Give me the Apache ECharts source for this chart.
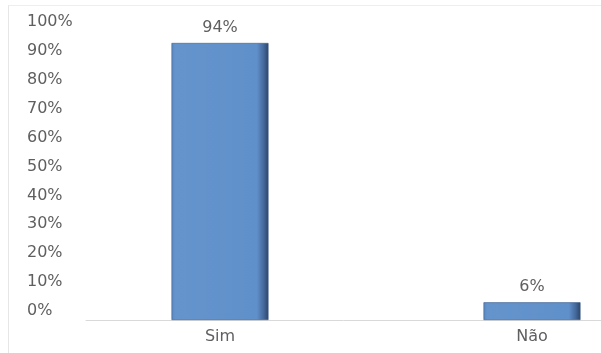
<!DOCTYPE html>
<html><head><meta charset="utf-8">
<script src="https://cdn.jsdelivr.net/npm/echarts@6/dist/echarts.min.js"></script>
<style>
html,body{margin:0;padding:0;background:#fff;}
#frame{position:absolute;left:8px;top:5px;width:593px;height:348px;border-left:1px solid #e6e6e6;border-top:1px solid #eeeeee;box-sizing:border-box;}
#c{position:absolute;left:0;top:0;width:601px;height:353px;}
</style></head>
<body>
<div id="frame"></div>
<div id="c"></div>
<script>
const categories = ['Sim', 'Não'];
const values = [94, 6];
const yTicks = [0, 10, 20, 30, 40, 50, 60, 70, 80, 90, 100];

const chart = echarts.init(document.getElementById('c'), null, {renderer: 'canvas'});
const font = 'DejaVu Sans';
const txt = '#5f5f5f';
const barGrad = new echarts.graphic.LinearGradient(0, 0, 1, 0, [
  {offset: 0, color: '#5a87bf'},
  {offset: 0.04, color: '#6594cd'},
  {offset: 0.88, color: '#6090c9'},
  {offset: 0.95, color: '#44699b'},
  {offset: 1, color: '#2b4569'}
]);
chart.setOption({
  animation: false,
  grid: [
    {left: 220, right: 69, top: 25.3, bottom: 33, containLabel: false},
    {left: 30, width: 10, top: 22, bottom: 42},
    {left: 86, right: 0, top: 25.3, bottom: 33}
  ],
  xAxis: [
    {type: 'category', gridIndex: 0, data: categories, boundaryGap: false,
     axisLine: {show: false}, axisTick: {show: false},
     axisLabel: {color: txt, fontFamily: font, fontSize: 16, margin: 9}},
    {type: 'value', gridIndex: 1, show: false},
    {type: 'value', gridIndex: 2, show: true, min: 0, max: 1,
     axisLine: {show: true, lineStyle: {color: '#d9d9d9', width: 1}},
     axisTick: {show: false}, axisLabel: {show: false}, splitLine: {show: false}}
  ],
  yAxis: [
    {type: 'value', gridIndex: 0, min: 0, max: 100, show: false},
    {type: 'value', gridIndex: 1, min: 0, max: 100, interval: 10,
     axisLine: {show: false}, axisTick: {show: false}, splitLine: {show: false},
     axisLabel: {align: 'left', margin: 3, color: txt, fontFamily: font, fontSize: 16,
                 formatter: v => yTicks.includes(v) ? v + '%' : ''}},
    {type: 'value', gridIndex: 2, show: false, min: 0, max: 1}
  ],
  series: [{
    type: 'bar', xAxisIndex: 0, yAxisIndex: 0, clip: false,
    data: values, barWidth: 97,
    itemStyle: {color: barGrad, borderColor: '#3a5c8a', borderWidth: 0.6},
    label: {show: true, position: 'top', distance: 7, formatter: '{c}%',
            color: txt, fontFamily: font, fontSize: 16}
  }]
});
</script>
</body></html>
